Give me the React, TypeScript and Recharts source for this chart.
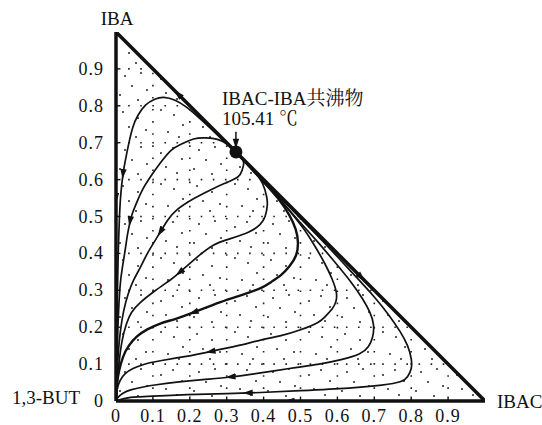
import React from 'react';
import { ComposedChart, Line, Area, Scatter, XAxis, YAxis, ReferenceLine, ReferenceDot } from 'recharts';

type P = { x: number; y: number };
const pts = (a: number[][]): P[] => a.map(([x, y]) => ({ x, y }));

// tick values and labels
const xTicks = [0, 0.1, 0.2, 0.3, 0.4, 0.5, 0.6, 0.7, 0.8, 0.9];
const yTicks = [0, 0.1, 0.2, 0.3, 0.4, 0.5, 0.6, 0.7, 0.8, 0.9];
const tickLabels = ['0', '0.1', '0.2', '0.3', '0.4', '0.5', '0.6', '0.7', '0.8', '0.9'];

// component names
const vertexTop = 'IBA';
const vertexRight = 'IBAC';
const vertexOrigin = '1,3-BUT';
const azeoName = 'IBAC-IBA共沸物';
const azeoTemp = '105.41 ℃';

// azeotrope composition (x = IBAC, y = IBA)
const azeotrope = { x: 0.325, y: 0.675 };

// composition triangle
const triangle = pts([[0, 1], [1, 0]]);

// residue curves (from azeotrope to 1,3-BUT)
const curve1 = pts([[0.325,0.675],[0.29,0.707],[0.255,0.74],[0.22,0.772],[0.19,0.797],[0.16,0.815],[0.13,0.823],[0.105,0.818],[0.08,0.802],[0.06,0.775],[0.045,0.74],[0.033,0.69],[0.025,0.65],[0.019,0.615],[0.013,0.56],[0.009,0.49],[0.006,0.4],[0.004,0.3],[0.002,0.17],[0,0]]);
const curve2 = pts([[0.325,0.675],[0.3,0.697],[0.275,0.709],[0.245,0.713],[0.21,0.71],[0.175,0.695],[0.15,0.68],[0.12,0.645],[0.093,0.607],[0.072,0.573],[0.057,0.54],[0.045,0.51],[0.038,0.485],[0.031,0.45],[0.025,0.41],[0.017,0.36],[0.011,0.31],[0.006,0.22],[0.003,0.12],[0,0]]);
const curve3 = pts([[0.325,0.675],[0.338,0.663],[0.346,0.646],[0.342,0.626],[0.33,0.607],[0.295,0.59],[0.256,0.572],[0.21,0.548],[0.165,0.518],[0.14,0.49],[0.12,0.458],[0.1,0.425],[0.084,0.398],[0.066,0.362],[0.048,0.328],[0.033,0.29],[0.021,0.245],[0.012,0.19],[0.005,0.11],[0,0]]);
const curve4 = pts([[0.325,0.675],[0.35,0.65],[0.375,0.623],[0.397,0.59],[0.408,0.555],[0.41,0.53],[0.404,0.5],[0.39,0.478],[0.36,0.458],[0.31,0.44],[0.265,0.423],[0.22,0.39],[0.174,0.35],[0.147,0.328],[0.105,0.298],[0.065,0.266],[0.042,0.24],[0.028,0.208],[0.016,0.16],[0.007,0.09],[0,0]]);
const curve5 = pts([[0.325,0.675],[0.36,0.637],[0.4,0.594],[0.44,0.548],[0.47,0.503],[0.487,0.465],[0.493,0.43],[0.488,0.395],[0.47,0.365],[0.447,0.341],[0.42,0.322],[0.392,0.306],[0.34,0.287],[0.283,0.268],[0.21,0.24],[0.16,0.222],[0.12,0.21],[0.085,0.194],[0.057,0.175],[0.035,0.15],[0.019,0.119],[0.008,0.08],[0.002,0.04],[0,0]]);
const curve6 = pts([[0.325,0.675],[0.37,0.627],[0.42,0.574],[0.47,0.516],[0.51,0.465],[0.54,0.418],[0.565,0.374],[0.585,0.332],[0.597,0.295],[0.596,0.27],[0.586,0.25],[0.568,0.23],[0.547,0.213],[0.5,0.193],[0.447,0.177],[0.392,0.165],[0.33,0.15],[0.256,0.134],[0.19,0.121],[0.12,0.109],[0.075,0.099],[0.046,0.088],[0.025,0.074],[0.011,0.055],[0.003,0.03],[0,0]]);
const curve7 = pts([[0.325,0.675],[0.38,0.615],[0.44,0.55],[0.5,0.483],[0.55,0.427],[0.59,0.38],[0.637,0.322],[0.668,0.277],[0.688,0.24],[0.698,0.205],[0.695,0.172],[0.684,0.148],[0.66,0.128],[0.61,0.112],[0.55,0.1],[0.47,0.088],[0.392,0.076],[0.31,0.065],[0.235,0.058],[0.165,0.051],[0.11,0.044],[0.074,0.038],[0.04,0.03],[0.019,0.021],[0.006,0.01],[0,0]]);
const curve8 = pts([[0.325,0.675],[0.4,0.597],[0.47,0.526],[0.54,0.454],[0.6,0.391],[0.65,0.337],[0.7,0.282],[0.74,0.232],[0.77,0.188],[0.79,0.15],[0.8,0.115],[0.8,0.088],[0.79,0.066],[0.77,0.052],[0.72,0.043],[0.63,0.035],[0.5,0.028],[0.392,0.023],[0.3,0.02],[0.22,0.018],[0.165,0.016],[0.1,0.013],[0.057,0.011],[0.025,0.007],[0,0]]);

// arrow heads: position and direction (composition units)
const curveArrows = [
  { x: 0.019, y: 0.615, dx: -0.1, dy: -1 },
  { x: 0.038, y: 0.487, dx: -0.16, dy: -1 },
  { x: 0.12, y: 0.458, dx: -0.55, dy: -0.9 },
  { x: 0.172, y: 0.348, dx: -1, dy: -0.85 },
  { x: 0.21, y: 0.24, dx: -1, dy: -0.38 },
  { x: 0.256, y: 0.134, dx: -1, dy: -0.2 },
  { x: 0.31, y: 0.065, dx: -1, dy: -0.12 },
  { x: 0.357, y: 0.022, dx: -1, dy: -0.04 },
];
const edgeArrows = [
  { x: 0, y: 0.55, dx: 0, dy: -1 },
  { x: 0.47, y: 0, dx: -1, dy: 0 },
  { x: 0.168, y: 0.832, dx: -1, dy: 1 },
  { x: 0.665, y: 0.335, dx: 1, dy: -1 },
];
const calloutArrow = [{ x: 0.325, y: 0.697, dx: 0, dy: -1 }];
const calloutLine = pts([[0.325, 0.73], [0.325, 0.69]]);

const INK = '#111';
const FONT = "'Liberation Serif', 'Noto Serif CJK SC', 'Times New Roman', serif";

const ArrowHead = (props: any) => {
  const { cx, cy, payload } = props;
  if (cx == null || cy == null) return null;
  const ang = Math.atan2(-payload.dy, payload.dx);
  const c = Math.cos(ang), s = Math.sin(ang);
  const L = 5, B = 5, W = 3.2;
  const tip = `${cx + c * L},${cy + s * L}`;
  const b1 = `${cx - c * B - s * W},${cy - s * B + c * W}`;
  const b2 = `${cx - c * B + s * W},${cy - s * B - c * W}`;
  return <polygon points={`${tip} ${b1} ${b2}`} fill={INK} />;
};

const labelFor = (v: number) => tickLabels[xTicks.findIndex((t) => Math.abs(t - v) < 1e-9)] ?? String(v);

const XTick = (props: any) => {
  const { x, y, payload } = props;
  return (
    <text x={x} y={y + 11} textAnchor="middle" style={{ fontFamily: FONT, fontSize: 18, letterSpacing: 1 }} fill={INK}>
      {labelFor(payload.value)}
    </text>
  );
};
const YTick = (props: any) => {
  const { x, y, payload } = props;
  return (
    <text x={x} y={y + 6} textAnchor="end" style={{ fontFamily: FONT, fontSize: 18, letterSpacing: 1 }} fill={INK}>
      {labelFor(payload.value)}
    </text>
  );
};

const stippleDots = [
  [7,6],[22,12],[13,21],[30,24],[20,31],[45,4],[58,9],[67,19],[52,26],[63,31],
  [9,44],[25,41],[16,54],[31,58],[4,63],[22,68],[45,47],[57,42],[66,53],[50,61],[61,67],
];

const curves = [curve1, curve2, curve3, curve4, curve5, curve6, curve7, curve8];

export default function App() {
  const textStyle = { fontFamily: FONT, fontSize: 19 };
  return (
    <div style={{ position: 'fixed', left: 0, top: 0, width: 542, height: 425, background: '#fff' }}>
      <svg width={0} height={0} style={{ position: 'absolute' }}>
        <defs>
          <pattern id="stipple" patternUnits="userSpaceOnUse" x={116} y={32} width={74} height={74}>
            {stippleDots.map(([px, py], i) => (
              <circle key={i} cx={px} cy={py} r={1} fill="#222" />
            ))}
          </pattern>
        </defs>
      </svg>
      <ComposedChart width={542} height={425} margin={{ top: 32, right: 57, bottom: 0, left: 0 }}>
        <XAxis
          type="number"
          dataKey="x"
          domain={[0, 1]}
          allowDataOverflow
          ticks={xTicks}
          interval={0}
          height={24}
          tickLine={false}
          tickSize={6}
          tickMargin={4}
          axisLine={{ stroke: INK, strokeWidth: 3.5 }}
          tick={<XTick />}
        />
        <YAxis
          type="number"
          dataKey="y"
          domain={[0, 1]}
          allowDataOverflow
          ticks={yTicks}
          interval={0}
          width={116}
          tickLine={false}
          tickSize={6}
          tickMargin={6}
          axisLine={{ stroke: INK, strokeWidth: 3.5 }}
          tick={<YTick />}
        />
        <Area
          data={triangle}
          dataKey="y"
          type="linear"
          stroke={INK}
          strokeWidth={3.5}
          fill="url(#stipple)"
          fillOpacity={1}
          isAnimationActive={false}
          dot={false}
          activeDot={false}
        />
        {yTicks.filter((v) => v > 0).map((v) => (
          <ReferenceLine key={'r' + v} segment={[{ x: 0, y: v }, { x: 1 - v, y: v }]} stroke="#222" strokeWidth={1.6} strokeDasharray="1.6 10.5" />
        ))}
        {xTicks.filter((v) => v > 0).map((v) => (
          <ReferenceLine key={'c' + v} segment={[{ x: v, y: 0 }, { x: v, y: 1 - v }]} stroke="#222" strokeWidth={1.6} strokeDasharray="1.6 10.5" />
        ))}
        {yTicks.filter((v) => v > 0).map((v) => (
          <ReferenceLine key={'ty' + v} segment={[{ x: 0, y: v }, { x: 0.012, y: v }]} stroke={INK} strokeWidth={1.4} />
        ))}
        {xTicks.filter((v) => v > 0).map((v) => (
          <ReferenceLine key={'tx' + v} segment={[{ x: v, y: 0 }, { x: v, y: 0.012 }]} stroke={INK} strokeWidth={1.4} />
        ))}
        {curves.map((c, i) => (
          <Line
            key={'curve' + i}
            data={c}
            dataKey="y"
            type="natural"
            stroke={INK}
            strokeWidth={i === 4 ? 2.4 : 1.7}
            dot={false}
            activeDot={false}
            isAnimationActive={false}
          />
        ))}
        <Line data={calloutLine} dataKey="y" type="linear" stroke={INK} strokeWidth={1.5} dot={false} activeDot={false} isAnimationActive={false} />
        <Scatter data={curveArrows} dataKey="y" shape={ArrowHead} isAnimationActive={false} />
        <Scatter data={edgeArrows} dataKey="y" shape={ArrowHead} isAnimationActive={false} />
        <Scatter data={calloutArrow} dataKey="y" shape={ArrowHead} isAnimationActive={false} />
        <ReferenceDot x={azeotrope.x} y={azeotrope.y} r={6.5} fill={INK} stroke="none" />
      </ComposedChart>
      <svg width={542} height={425} style={{ position: 'absolute', left: 0, top: 0, pointerEvents: 'none' }}>
        <g fill={INK}>
          <text x={117} y={25} textAnchor="middle" style={textStyle}>{vertexTop}</text>
          <text x={497} y={408} style={textStyle}>{vertexRight}</text>
          <text x={12} y={404} style={textStyle}>{vertexOrigin}</text>
          <text x={222} y={105} style={textStyle}>{azeoName}</text>
          <text x={222} y={125} style={textStyle}>{azeoTemp}</text>
        </g>
      </svg>
    </div>
  );
}
